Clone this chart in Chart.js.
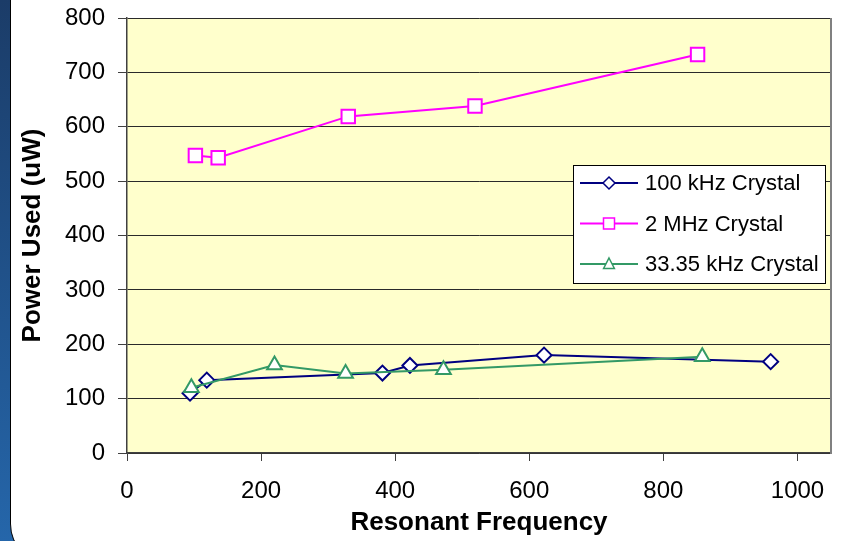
<!DOCTYPE html>
<html>
<head>
<meta charset="utf-8">
<title>Power Used vs Resonant Frequency</title>
<script src="https://cdn.jsdelivr.net/npm/chart.js@4.4.0/dist/chart.umd.min.js"></script>
<style>
    html, body {
        margin: 0;
        padding: 0;
        width: 847px;
        height: 541px;
        overflow: hidden;
    }
    body {
        position: relative;
        background: linear-gradient(to bottom, #1b3c68 0%, #2566aa 100%);
    }
    #panel {
        position: absolute;
        left: 10px;
        top: -20px;
        width: 900px;
        height: 583px;
        background: #ffffff;
        border-left: 1.5px solid #000;
        border-bottom: 1.5px solid #000;
        border-bottom-left-radius: 40px;
    }
    #chart {
        position: absolute;
        left: 0;
        top: 0;
    }
</style>
</head>
<body>
<div id="panel"></div>
<canvas id="chart" width="847" height="541"></canvas>
<script>
'use strict';

// Section 1: data
const seriesNames = ["100 kHz Crystal", "2 MHz Crystal", "33.35 kHz Crystal"];

const freq100k = [94, 119, 381, 422, 622, 960];
const power100k = [110, 134, 147, 161, 180, 168];

const freq2M = [102, 136, 330, 519, 851];
const power2M = [547, 543, 619, 638, 733];

const freq33k = [96, 220, 326, 472, 858];
const power33k = [120, 162, 146, 153, 177];

const xTickValues = [0, 200, 400, 600, 800, 1000];
const yTickValues = [0, 100, 200, 300, 400, 500, 600, 700, 800];

// Section 2: styles
const fontFamily = '"Liberation Sans", Arial, sans-serif';
const seriesColors = ["#000080", "#ff00ff", "#339966"];
const seriesMarkers = ["rectRot", "rect", "triangle"];
const markerSizes = [7.5, 9.5, 8.5];
const plotColor = "#ffffcc";

function toPoints(xs, ys) {
    return xs.map((x, i) => ({x: x, y: ys[i]}));
}

function makeDataset(index, xs, ys, order) {
    return {
        label: seriesNames[index],
        data: toPoints(xs, ys),
        borderColor: seriesColors[index],
        backgroundColor: "#ffffff",
        borderWidth: 2,
        pointStyle: seriesMarkers[index],
        pointRadius: markerSizes[index],
        pointBorderWidth: 2,
        pointBackgroundColor: "#ffffff",
        pointBorderColor: seriesColors[index],
        showLine: true,
        tension: 0,
        order: order,
    };
}

// draws a legend marker the same shape as the chart ones
function drawMarker(ctx, style, x, y, r, color) {
    ctx.beginPath();
    if (style === "rectRot") {
        ctx.moveTo(x, y - r);
        ctx.lineTo(x + r, y);
        ctx.lineTo(x, y + r);
        ctx.lineTo(x - r, y);
        ctx.closePath();
    }
    else if (style === "rect") {
        ctx.rect(x - r, y - r, 2 * r, 2 * r);
    }
    else {
        ctx.moveTo(x, y - r);
        ctx.lineTo(x + r * 0.9, y + r * 0.75);
        ctx.lineTo(x - r * 0.9, y + r * 0.75);
        ctx.closePath();
    }
    ctx.fillStyle = "#ffffff";
    ctx.fill();
    ctx.strokeStyle = color;
    ctx.lineWidth = 1.5;
    ctx.stroke();
}

// keep tick labels from pushing the plot area around
function noScalePadding(scale) {
    scale.paddingTop = 0;
    scale.paddingBottom = 0;
    scale.paddingLeft = 0;
    scale.paddingRight = 0;
}

const plotAreaPlugin = {
    id: "plotArea",
    beforeDraw(chart) {
        const {ctx, chartArea} = chart;
        ctx.save();
        ctx.fillStyle = plotColor;
        ctx.fillRect(chartArea.left, chartArea.top, chartArea.right - chartArea.left, chartArea.bottom - chartArea.top);
        ctx.restore();
    },
    beforeDatasetsDraw(chart) {
        const {ctx, chartArea} = chart;
        ctx.save();
        ctx.strokeStyle = "#808080";
        ctx.lineWidth = 2;
        ctx.beginPath();
        ctx.moveTo(chartArea.right, chartArea.top);
        ctx.lineTo(chartArea.right, chartArea.bottom + 1);
        ctx.stroke();
        ctx.restore();
    },
};

const boxLegendPlugin = {
    id: "boxLegend",
    afterDraw(chart) {
        const {ctx, chartArea} = chart;
        const left = chartArea.right - 258;
        const top = chartArea.top + 147;
        const width = 252;
        const height = 118;

        ctx.save();
        ctx.fillStyle = "#ffffff";
        ctx.fillRect(left, top, width, height);
        ctx.strokeStyle = "#000000";
        ctx.lineWidth = 1;
        ctx.strokeRect(left + 0.5, top + 0.5, width, height);

        ctx.font = `22px ${fontFamily}`;
        ctx.textBaseline = "middle";
        ctx.textAlign = "left";

        seriesNames.forEach((name, i) => {
            const y = top + 18 + i * 40.5;
            ctx.strokeStyle = seriesColors[i];
            ctx.lineWidth = 2;
            ctx.beginPath();
            ctx.moveTo(left + 7, y);
            ctx.lineTo(left + 65, y);
            ctx.stroke();
            drawMarker(ctx, seriesMarkers[i], left + 36, y, i === 1 ? 5.5 : 6, seriesColors[i]);
            ctx.fillStyle = "#000000";
            ctx.fillText(name, left + 72, y + 1);
        });
        ctx.restore();
    },
};

const chartConfig = {
    type: "scatter",
    data: {
        datasets: [
            makeDataset(0, freq100k, power100k, 3),
            makeDataset(1, freq2M, power2M, 2),
            makeDataset(2, freq33k, power33k, 1),
        ],
    },
    options: {
        responsive: false,
        animation: false,
        devicePixelRatio: 1,
        layout: {
            padding: {top: 18, right: 16, left: 0, bottom: 0},
        },
        scales: {
            x: {
                type: "linear",
                position: "bottom",
                min: 0,
                max: 1050,
                afterBuildTicks: scale => {
                    scale.ticks = xTickValues.map(v => ({value: v}));
                },
                afterFit: scale => {
                    scale.height = 88;
                    noScalePadding(scale);
                },
                grid: {
                    drawOnChartArea: false,
                    tickLength: 8,
                    tickColor: "#404040",
                    lineWidth: 1,
                },
                border: {
                    color: "#404040",
                    width: 1.5,
                },
                ticks: {
                    padding: 16,
                    color: "#000000",
                    font: {family: fontFamily, size: 24},
                    callback: value => String(value),
                },
                title: {
                    display: true,
                    text: "Resonant Frequency",
                    color: "#000000",
                    font: {family: fontFamily, size: 26, weight: "bold"},
                    padding: {top: 0, bottom: 3},
                },
            },
            y: {
                min: 0,
                max: 800,
                afterBuildTicks: scale => {
                    scale.ticks = yTickValues.map(v => ({value: v}));
                },
                afterFit: scale => {
                    scale.width = 127;
                    noScalePadding(scale);
                },
                grid: {
                    color: "#2a2a2a",
                    tickColor: "#404040",
                    tickLength: 9,
                    lineWidth: 1,
                },
                border: {
                    color: "#404040",
                    width: 1.5,
                },
                ticks: {
                    padding: 13,
                    color: "#000000",
                    font: {family: fontFamily, size: 24},
                    callback: value => String(value),
                },
                title: {
                    display: true,
                    text: "Power Used (uW)",
                    color: "#000000",
                    font: {family: fontFamily, size: 26, weight: "bold"},
                    padding: {top: 17, bottom: 0},
                },
            },
        },
        plugins: {
            legend: {
                display: false,
            },
            tooltip: {
                enabled: false,
            },
        },
    },
    plugins: [plotAreaPlugin, boxLegendPlugin],
};

const powerChart = new Chart(document.querySelector("#chart"), chartConfig);
</script>
</body>
</html>
